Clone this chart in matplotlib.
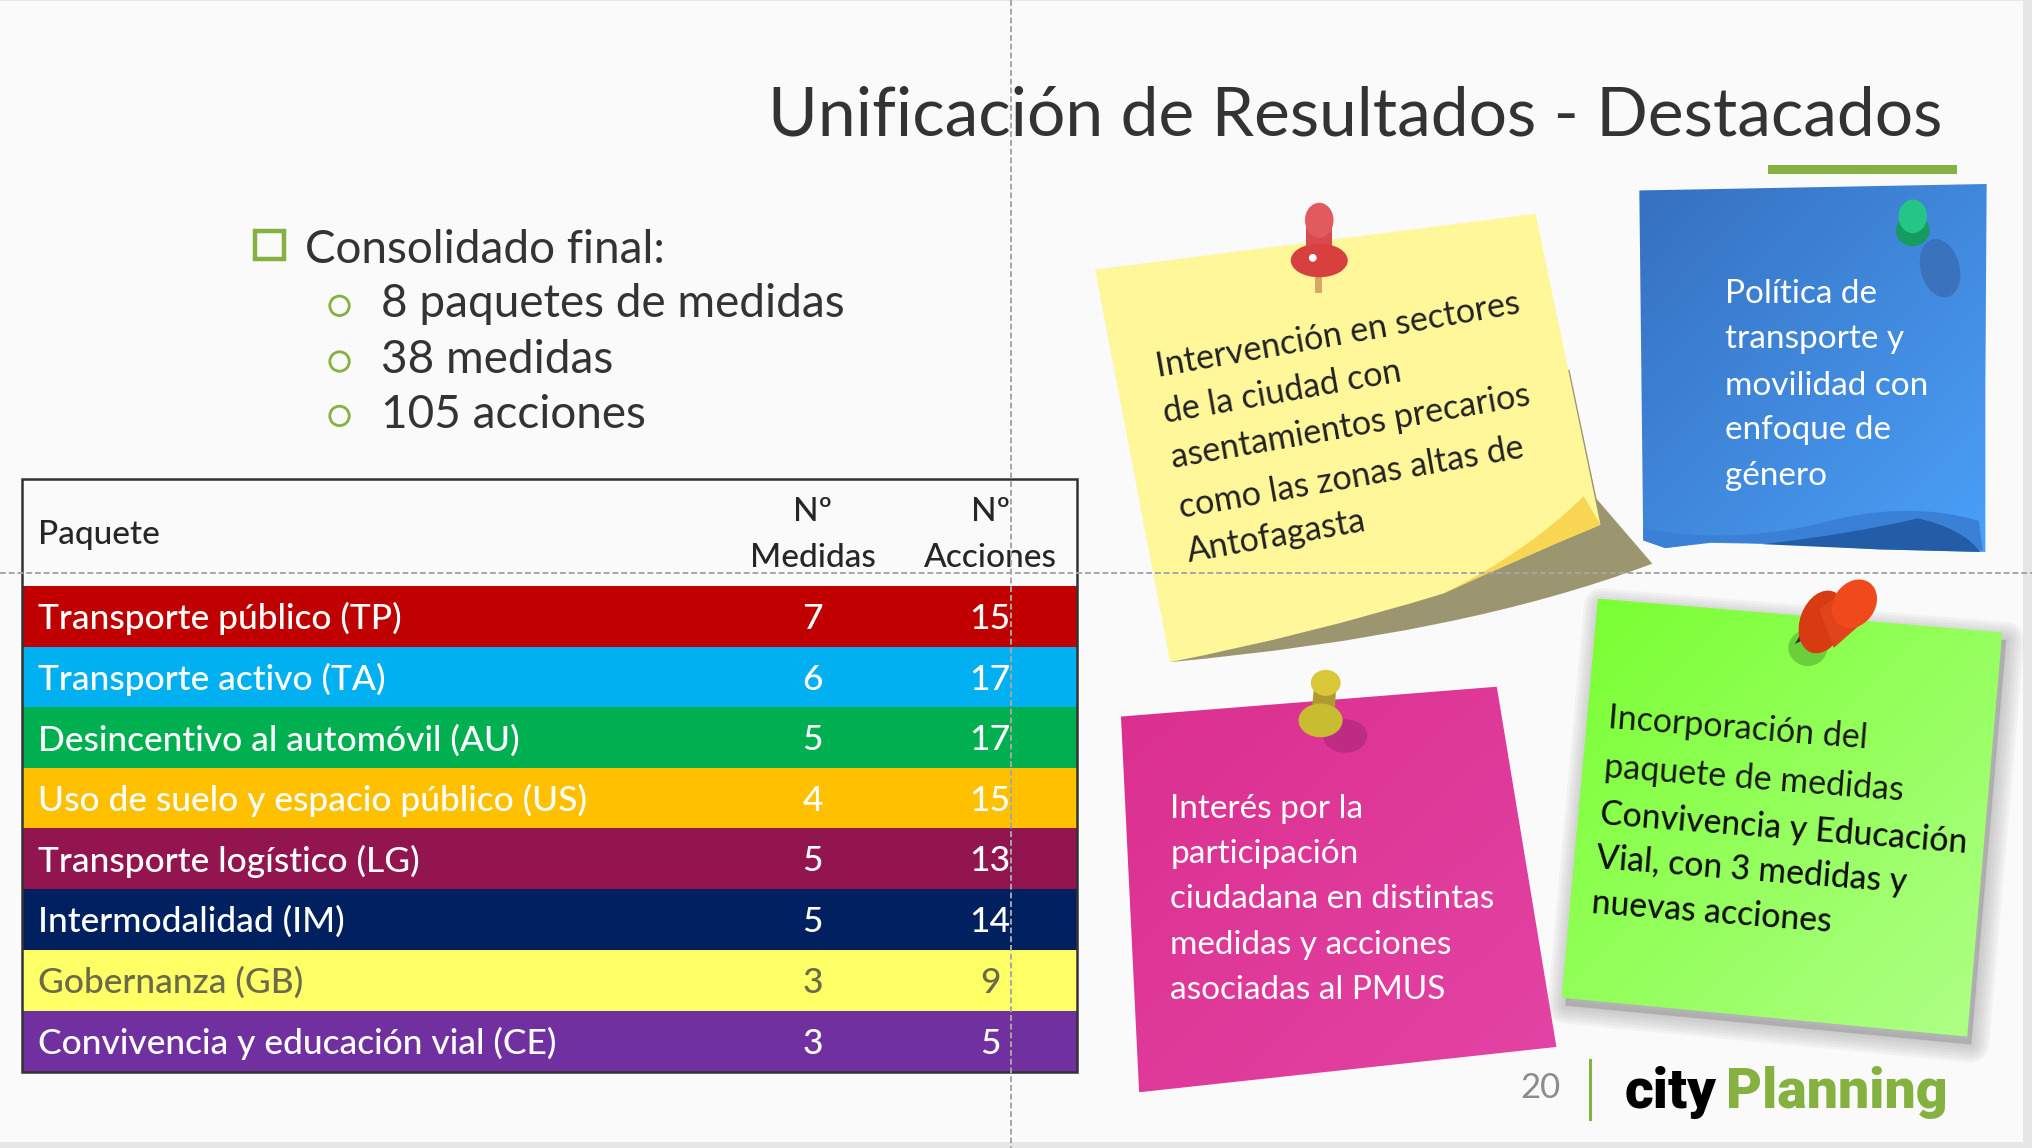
import matplotlib
matplotlib.use("Agg")
import matplotlib.pyplot as plt
import numpy as np
from matplotlib.colors import to_rgb
from matplotlib.patches import Circle, Ellipse, PathPatch, Polygon, Rectangle
from matplotlib.path import Path

FONT = "Lato"
GREEN = "#84b13f"

paquetes = ["Transporte público (TP)", "Transporte activo (TA)", "Desincentivo al automóvil (AU)",
            "Uso de suelo y espacio público (US)", "Transporte logístico (LG)", "Intermodalidad (IM)",
            "Gobernanza (GB)", "Convivencia y educación vial (CE)"]
n_medidas = [7, 6, 5, 4, 5, 5, 3, 3]
n_acciones = [15, 17, 17, 15, 13, 14, 9, 5]
colores = ["#c00000", "#00b0f0", "#00b050", "#ffc000", "#931550", "#002060", "#ffff66", "#7030a0"]
bullets = ["8 paquetes de medidas", "38 medidas", "105 acciones"]
nota_amarilla = ["Intervención en sectores", "de la ciudad con", "asentamientos precarios",
                 "como las zonas altas de", "Antofagasta"]
nota_azul = ["Política de", "transporte y", "movilidad con", "enfoque de", "género"]
nota_rosa = ["Interés por la", "participación", "ciudadana en distintas", "medidas y acciones",
             "asociadas al PMUS"]
nota_verde = ["Incorporación del", "paquete de medidas", "Convivencia y Educación",
              "Vial, con 3 medidas y", "nuevas acciones"]

# axes run in 1568 wide coordinates, y going down
fig = plt.figure(figsize=(20.32, 11.48), dpi=100, facecolor="#e6e6e6")
ax = fig.add_axes([0, 0, 1, 1])
ax.axis("off")


def gradient(verts, c1, c2, z=2):
    # two colour diagonal fill clipped to the note shape
    verts = np.array(verts)
    a, b = np.array(to_rgb(c1)), np.array(to_rgb(c2))
    g = np.linspace(0, 1, 64)
    t = np.add.outer(g, g)[:, :, None] / 2
    img = a + (b - a) * t
    im = ax.imshow(img, extent=(verts[:, 0].min(), verts[:, 0].max(), verts[:, 1].max(), verts[:, 1].min()),
                   aspect="auto", zorder=z, interpolation="bilinear")
    clip = Polygon(verts, closed=True, transform=ax.transData, fc="none", ec="none")
    ax.add_patch(clip)
    im.set_clip_path(clip)


def soft_shadow(verts, dx, dy, z=1):
    verts = np.array(verts) + [dx, dy]
    for lw in [26, 22, 18, 14, 10, 6, 2]:
        ax.add_patch(Polygon(verts, closed=True, fc="#888888", ec="#888888", lw=lw, alpha=0.07,
                             joinstyle="round", zorder=z))


def curve(start, *segs, **kw):
    # segs are (control, end) pairs, or a single end for a straight piece
    v, c = [start], [Path.MOVETO]
    for s in segs:
        if len(s) == 2 and np.ndim(s[0]) == 1:
            v += [s[0], s[1]]
            c += [Path.CURVE3, Path.CURVE3]
        else:
            v.append(s)
            c.append(Path.LINETO)
    v.append(start)
    c.append(Path.CLOSEPOLY)
    p = PathPatch(Path(v, c), **kw)
    ax.add_patch(p)
    return p


def note_text(x0, y0, lines, steps, size, color, rot=0, **kw):
    for line, (dx, dy) in zip(lines, steps):
        ax.text(x0 + dx, y0 + dy, line, fontsize=size, color=color, rotation=rot, ha="left", va="center",
                rotation_mode="anchor", family=FONT, zorder=8, **kw)


# slide background
ax.add_patch(Rectangle((0, 1), 1561, 880, fc="#fafafa", ec="none", zorder=0))

# title
ax.text(1499, 90, "Unificación de Resultados - Destacados", fontsize=48.8, ha="right", va="center",
        color="#333333", family=FONT, zorder=5)
ax.add_patch(Rectangle((1364, 127), 146, 7, fc=GREEN, ec="none", zorder=5))

# bullet list
ax.add_patch(Rectangle((197, 178), 22, 22, fc="none", ec=GREEN, lw=3.2, zorder=5))
ax.text(235, 193, "Consolidado final:", fontsize=33, va="center", color="#333333", family=FONT)
for i, b in enumerate(bullets):
    y = [235, 278, 320][i]
    ax.add_patch(Circle((262, [236, 279, 321][i]), 7.5, fc="none", ec=GREEN, lw=2))
    ax.text(294, y, b, fontsize=33, va="center", color="#333333", family=FONT)

# table
tops = [452, 499, 546, 593, 639, 686, 733, 780, 827]
for i, (p, m, a) in enumerate(zip(paquetes, n_medidas, n_acciones)):
    ax.add_patch(Rectangle((17, tops[i]), 814, tops[i + 1] - tops[i], fc=colores[i], ec="none", zorder=3))
    tc = "#6b6b4a" if colores[i] == "#ffff66" else "white"
    yc = (tops[i] + tops[i + 1]) / 2 + 2
    ax.text(29, yc, p, fontsize=25.5, color=tc, va="center", family=FONT, weight="medium", zorder=4)
    ax.text(627, yc, str(m), fontsize=25.5, color=tc, va="center", ha="center", family=FONT, weight="medium", zorder=4)
    ax.text(764, yc, str(a), fontsize=25.5, color=tc, va="center", ha="center", family=FONT, weight="medium", zorder=4)
ax.add_patch(Rectangle((17, 369.5), 814, 458, fc="none", ec="#333333", lw=1.8, zorder=4))
ax.text(29, 413, "Paquete", fontsize=24, color="#262626", va="center", family=FONT, weight="medium", zorder=4)
for x, t in [(627, "Medidas"), (764, "Acciones")]:
    ax.text(x, 395, "Nº", fontsize=24, color="#262626", va="center", ha="center", family=FONT, weight="medium", zorder=4)
    ax.text(x, 431, t, fontsize=24, color="#262626", va="center", ha="center", family=FONT, weight="medium", zorder=4)

# yellow note with its curled corner
curve((1211, 285), (1232, 385), (1275, 435), ((1130, 490), (903, 511)), fc="#9b9670", ec="none", zorder=2)
curve((845, 208), (1185, 165), (1235, 405), ((1170, 432), (1114, 458)), ((1010, 490), (903, 511)),
      fc="#fff799", ec="none", zorder=3)
curve((1222, 383), (1235, 405), ((1170, 432), (1114, 458)), ((1180, 425), (1222, 383)),
      fc="#f8d552", ec="none", zorder=4)
note_text(892, 0, nota_amarilla, [(0, 283), (6, 319), (12, 354), (18, 392), (24, 426)], 24.6, "#222222", rot=10)

# blue note
azul = [(1265, 147), (1533, 142), (1532, 300), (1532, 426), (1450, 424), (1380, 420), (1320, 419), (1285, 423),
        (1268, 417)]
gradient(azul, "#3670c0", "#4aa0f8")
curve((1268, 408), ((1330, 420), (1400, 405)), ((1470, 385), (1527, 402)), (1530, 425), (1400, 421),
      (1320, 418), (1285, 423), (1268, 417), fc="#3a80d6", ec="none", zorder=3)
curve((1360, 420), ((1430, 412), (1480, 400)), ((1515, 408), (1528, 426)), (1450, 424), fc="#235da8", ec="none", zorder=3)
ax.add_patch(Ellipse((1497, 207), 30, 46, angle=-15, fc="#3a72bd", ec="none", zorder=3))
note_text(1331, 0, nota_azul, [(0, 227), (0, 262), (0, 298), (0, 332), (0, 367)], 24, "white")

# pink note
rosa = [(865, 553), (1155, 530), (1201, 808), (879, 843)]
gradient(rosa, "#db2f8f", "#e344a5")
ax.add_patch(Ellipse((1038, 568), 34, 26, fc="#bd2c82", ec="none", zorder=3))
note_text(903, 0, nota_rosa, [(0, 624), (0, 659), (0, 694), (0, 729), (0, 764)], 24, "white")

# green note
verde = [(1233, 462), (1545, 488), (1518, 800), (1205, 770)]
soft_shadow(verde, 3, 6)
gradient(verde, "#78ff30", "#b0ff88")
ax.add_patch(Ellipse((1395, 500), 30, 28, fc="#55b030", ec="none", alpha=0.6, zorder=3))
note_text(1241, 0, nota_verde[:2], [(0, 554), (-3, 592)], 24.5, "#1a1a1a", rot=-4.5)
note_text(1235, 0, nota_verde[2:], [(0, 628), (-3, 662), (-7, 697)], 24.2, "#111111", rot=-4.5, weight="medium")

# pins
ax.add_patch(Rectangle((1015, 212), 5, 14, fc="#d8a868", ec="none", zorder=5))
ax.add_patch(Rectangle((1008, 170), 20, 32, fc="#d94a4f", ec="none", zorder=5))
ax.add_patch(Ellipse((1018, 170), 22, 27, fc="#e05a5e", ec="none", zorder=6))
ax.add_patch(Ellipse((1018, 201), 44, 26, fc="#d8403f", ec="none", zorder=6))
ax.add_patch(Circle((1013, 199), 3, fc="white", ec="none", zorder=7))
ax.add_patch(Ellipse((1476, 178), 26, 24, fc="#159a60", ec="none", zorder=5))
ax.add_patch(Ellipse((1476, 167), 22, 26, fc="#25c585", ec="none", zorder=6))
ax.add_patch(Polygon([(1385, 497), (1395, 480), (1400, 490)], fc="#333322", ec="none", zorder=5))
ax.add_patch(Ellipse((1406, 480), 34, 50, angle=20, fc="#d83a12", ec="none", zorder=5))
ax.add_patch(Polygon([(1404, 470), (1425, 455), (1440, 478), (1415, 500)], fc="#e0441a", ec="none", zorder=5))
ax.add_patch(Ellipse((1431, 466), 32, 40, angle=35, fc="#f04a1c", ec="none", zorder=6))
ax.add_patch(Polygon([(1014, 530), (1031, 530), (1030, 550), (1012, 550)], fc="#b09a30", ec="none", zorder=5))
ax.add_patch(Ellipse((1023, 527), 23, 20, fc="#d8c838", ec="none", zorder=6))
ax.add_patch(Ellipse((1019, 556), 34, 26, fc="#c8bc30", ec="none", zorder=6))

# footer
ax.text(1189, 840, "20", fontsize=25, color="#8c8c8c", ha="center", va="center", family=FONT)
ax.plot([1227, 1227], [818, 864], color=GREEN, lw=2.2, zorder=5)
ax.text(1254, 843, "city", fontsize=40, color="black", va="center", family="Roboto", weight="black", zorder=5)
ax.text(1503, 843, "Planning", fontsize=40, color=GREEN, va="center", ha="right", family="Roboto", weight="black", zorder=5)

# slide guides
ax.plot([780, 780], [0, 886], color="#a6a6a6", lw=1.4, ls=(0, (3, 1.5)), zorder=9)
ax.plot([0, 1568], [442, 442], color="#a6a6a6", lw=1.4, ls=(0, (3, 1.5)), zorder=9)

ax.set_xlim(0, 1568)
ax.set_ylim(886, 0)
fig.savefig("out.png", dpi=100, facecolor=fig.get_facecolor())
